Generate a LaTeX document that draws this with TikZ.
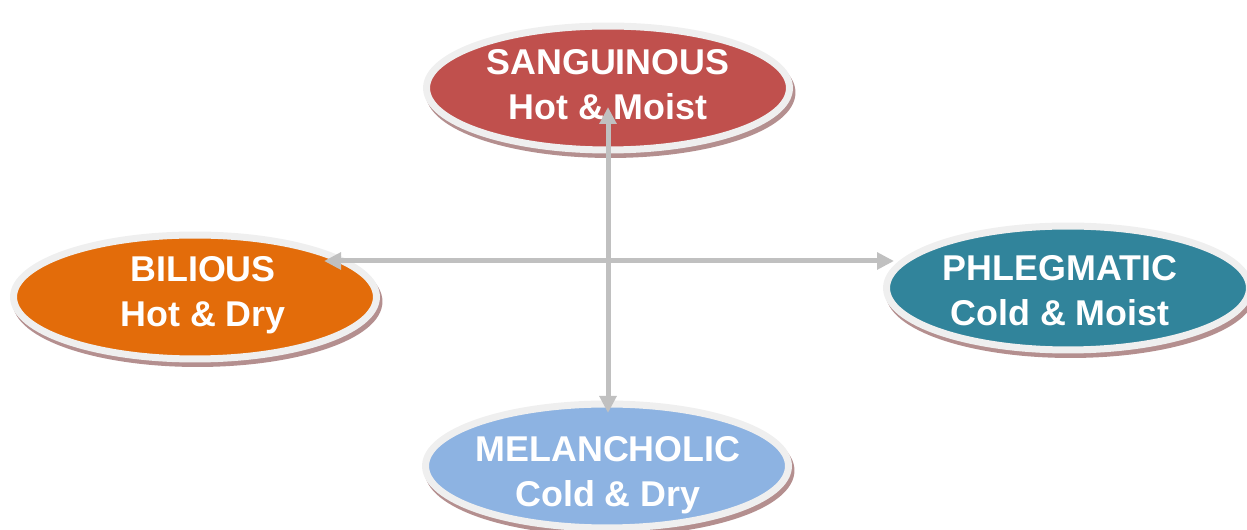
\documentclass[tikz,border=0pt]{standalone}
\usepackage{fontspec}
\setmainfont{Liberation Sans}
\usetikzlibrary{arrows.meta,shapes.geometric}
\definecolor{sangred}{HTML}{C0504D}
\definecolor{bilorange}{HTML}{E36C0A}
\definecolor{phlteal}{HTML}{31849B}
\definecolor{melblue}{HTML}{8DB3E2}
\definecolor{ringgray}{HTML}{EFEFEF}
\definecolor{shadebrown}{HTML}{B48F8F}
\definecolor{linkgray}{HTML}{C0C0C0}

\begin{document}
\begin{tikzpicture}[x=0.02cm,y=0.02cm,
		humour/.style={ellipse,draw=ringgray,line width=0.14cm,
			minimum width=7.26cm,minimum height=2.48cm,inner sep=0pt,
			preaction={draw=shadebrown,fill=shadebrown,line width=0.14cm,
				transform canvas={xshift=0.05cm,yshift=-0.09cm}}},
		humourtext/.style={align=center,text=white,inner sep=0pt,
			font=\fontsize{20.4}{25.6}\selectfont\bfseries},
		link/.style={linkgray,line width=0.1cm,
			{Triangle[length=0.34cm,width=0.33cm]}-{Triangle[length=0.34cm,width=0.33cm]}}]
		\useasboundingbox (0,0) rectangle (1247,530);
		% humours
		\node[humour,fill=sangred] (san) at (608,442) {};
		\node[humour,fill=bilorange] (bil) at (195,233) {};
		\node[humour,fill=phlteal] (phl) at (1068,242) {};
		\node[humour,fill=melblue] (mel) at (607,64) {};
		\node[humourtext] (santxt) at (608,445) {SANGUINOUS\\Hot \& Moist};
		\node[humourtext] (biltxt) at (203,235) {BILIOUS\\Hot \& Dry};
		\node[humourtext] (phltxt) at (1060,239) {PHLEGMATIC\\Cold \& Moist};
		\node[humourtext] (meltxt) at (608,55) {MELANCHOLIC\\Cold \& Dry};
		% axes
		\coordinate (bilend) at (324,269);
		\coordinate (phlend) at (894,269);
		\coordinate (sanend) at (608,423);
		\coordinate (melend) at (608,117);
		\draw[link] (sanend) -- (melend);
		\draw[link] (bilend) -- (phlend);
	\end{tikzpicture}
\end{document}
